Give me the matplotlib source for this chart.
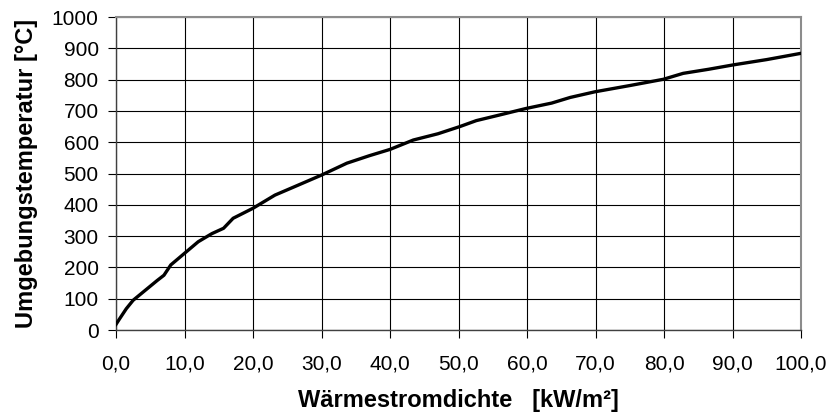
import numpy as np
import matplotlib
matplotlib.use("Agg")
import matplotlib.pyplot as plt

plt.rcParams['font.family'] = ['Liberation Sans', 'DejaVu Sans']

# heat flux density [kW/m²] and ambient temperature [°C]
flux = [0.0, 0.5, 1.5, 2.5, 4.0, 6.0, 7.0, 8.0, 10.0, 12.0, 14.0, 15.7, 17.1, 20.0,
        23.2, 26.5, 30.0, 33.7, 37.0, 40.0, 43.4, 47.0, 50.2, 52.6, 56.0, 59.9,
        63.6, 66.3, 69.9, 75.0, 79.9, 82.8, 86.5, 90.1, 95.0, 100.0]
temp = [18, 35, 68, 95, 122, 158, 175, 208, 245, 282, 308, 325, 357, 389,
        431, 462, 495, 533, 557, 577, 607, 627, 650, 669, 687, 708,
        725, 743, 761, 781, 801, 820, 833, 847, 864, 884]

x_ticks = np.arange(0, 101, 10)
y_ticks = np.arange(0, 1001, 100)

fig = plt.figure(figsize=(8.31, 4.18), dpi=100)
ax = fig.add_axes([0.1396, 0.2105, 0.8243, 0.7488])

ax.plot(flux, temp, color="black", lw=2.4, zorder=3)

ax.set_xlim(0, 100)
ax.set_ylim(0, 1000)
ax.set_xticks(x_ticks)
ax.set_yticks(y_ticks)
ax.set_xticklabels([f"{v:.1f}".replace(".", ",") for v in x_ticks])
ax.grid(True, color="black", lw=0.8)
ax.set_axisbelow(True)

ax.tick_params(direction="out", length=5.5, width=0.8, labelsize=15)
ax.tick_params(axis="y", pad=7)
ax.tick_params(axis="x", pad=12)
for side in ["top", "right"]:
    ax.spines[side].set_color("#8c8c8c")
    ax.spines[side].set_linewidth(1.5)
for side in ["left", "bottom"]:
    ax.spines[side].set_color("#404040")
    ax.spines[side].set_linewidth(1.0)

ax.set_xlabel("Wärmestromdichte   [kW/m²]", fontsize=17, fontweight="bold", labelpad=11)
ax.set_ylabel("Umgebungstemperatur [°C]", fontsize=17, fontweight="bold", labelpad=10)

fig.savefig("out.png", dpi=100)
